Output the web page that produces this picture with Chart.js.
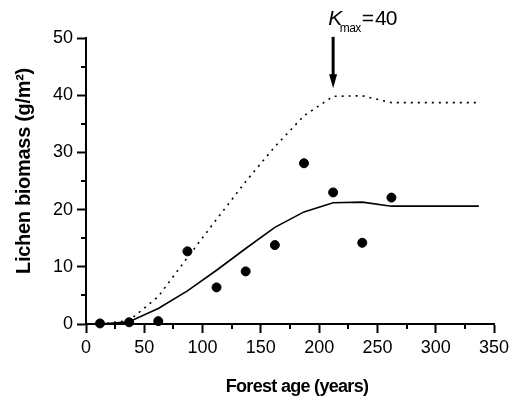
<!DOCTYPE html>
<html>
<head>
<meta charset="utf-8">
<script src="https://cdn.jsdelivr.net/npm/chart.js@4.4.1/dist/chart.umd.min.js"></script>
<style>
html,body{margin:0;padding:0;background:#fff;}
#wrap{width:519px;height:400px;position:relative;}
</style>
</head>
<body>
<div id="wrap"><canvas id="c" width="519" height="400"></canvas></div>
<script>
// Observed lichen biomass (points)
const obsAges = [12, 37, 62, 87, 112, 137, 162, 187, 212, 237, 262];
const obsBiomass = [0.1, 0.3, 0.5, 12.7, 6.4, 9.2, 13.8, 28.1, 23.0, 14.2, 22.1];
// Model curves
const modelAges = [12, 37, 62, 87, 112, 137, 162, 187, 212, 237, 262, 337];
const modelFit = [0, 0.4, 2.7, 5.8, 9.4, 13.2, 16.9, 19.6, 21.2, 21.3, 20.6, 20.6];
const modelKmax = [0, 0.6, 4.8, 11.6, 18.3, 24.9, 31.0, 36.4, 39.8, 39.9, 38.7, 38.7];
// Axis ticks
const xTicks = [0, 50, 100, 150, 200, 250, 300, 350];
const yTicks = [0, 10, 20, 30, 40, 50];
const xMinorTicks = [25, 75, 125, 175, 225, 275, 325];
const yMinorTicks = [5, 15, 25, 35, 45];
// Titles & annotation
const xTitle = 'Forest age (years)';
const yTitle = 'Lichen biomass (g/m²)';
const kmaxAge = 212;
const kmaxValue = 40;

const FONT = "'Liberation Sans', Arial, Helvetica, sans-serif";

const toXY = (xs, ys) => xs.map((x, i) => ({x: x, y: ys[i]}));

const minorTicksPlugin = {
  id: 'minorTicks',
  afterDraw(chart) {
    const ctx = chart.ctx;
    const xs = chart.scales.x, ys = chart.scales.y;
    ctx.save();
    ctx.strokeStyle = '#000';
    ctx.lineWidth = 2;
    xMinorTicks.forEach(v => {
      const px = Math.round(xs.getPixelForValue(v));
      ctx.beginPath();
      ctx.moveTo(px, ys.bottom);
      ctx.lineTo(px, ys.bottom + 5);
      ctx.stroke();
    });
    yMinorTicks.forEach(v => {
      const py = Math.round(ys.getPixelForValue(v));
      ctx.beginPath();
      ctx.moveTo(xs.left, py);
      ctx.lineTo(xs.left - 5, py);
      ctx.stroke();
    });
    ctx.restore();
  }
};

const titlesPlugin = {
  id: 'axisTitles',
  afterDraw(chart) {
    const ctx = chart.ctx;
    const area = chart.chartArea;
    ctx.save();
    ctx.fillStyle = '#000';
    ctx.textAlign = 'center';
    ctx.textBaseline = 'middle';
    // x title
    ctx.font = "bold 18px " + FONT;
    try { ctx.letterSpacing = '-0.7px'; } catch (e) {}
    ctx.fillText(xTitle, (area.left + area.right) / 2 + 7, 387);
    // y title
    ctx.font = "bold 20px " + FONT;
    try { ctx.letterSpacing = '-0.3px'; } catch (e) {}
    ctx.translate(24, (area.top + area.bottom) / 2 - 10);
    ctx.rotate(-Math.PI / 2);
    ctx.fillText(yTitle, 0, 0);
    ctx.restore();
  }
};

const annotationPlugin = {
  id: 'kmaxAnno',
  afterDraw(chart) {
    const ctx = chart.ctx;
    const xs = chart.scales.x, ys = chart.scales.y;
    const ax = xs.getPixelForValue(kmaxAge);
    const yTop = ys.getPixelForValue(50.2);
    const yTip = ys.getPixelForValue(41.2);
    ctx.save();
    ctx.strokeStyle = '#000';
    ctx.fillStyle = '#000';
    ctx.lineWidth = 3;
    ctx.beginPath();
    ctx.moveTo(ax, yTop);
    ctx.lineTo(ax, yTip - 12);
    ctx.stroke();
    ctx.beginPath();
    ctx.moveTo(ax - 4, yTip - 14);
    ctx.lineTo(ax + 4, yTip - 14);
    ctx.lineTo(ax, yTip);
    ctx.closePath();
    ctx.fill();
    // text
    ctx.textBaseline = 'alphabetic';
    ctx.textAlign = 'left';
    let tx = ax - 5;
    const base = yTop - 12;
    ctx.font = "italic 21px " + FONT;
    ctx.fillText('K', tx, base);
    tx += ctx.measureText('K').width - 2.5;
    ctx.font = "12px " + FONT;
    try { ctx.letterSpacing = '-0.5px'; } catch (e) {}
    ctx.fillText('max', tx, base + 7);
    tx += ctx.measureText('max').width + 1;
    ctx.font = "21px " + FONT;
    try { ctx.letterSpacing = '-1px'; } catch (e) {}
    ctx.fillText('=', tx, base);
    tx += ctx.measureText('=').width + 2;
    ctx.fillText(String(kmaxValue), tx, base);
    ctx.restore();
  }
};

const ctx = document.getElementById('c').getContext('2d');
new Chart(ctx, {
  type: 'scatter',
  data: {
    datasets: [
      {
        label: 'Observed',
        data: toXY(obsAges, obsBiomass),
        backgroundColor: '#000',
        borderColor: '#000',
        pointRadius: 4.5,
        pointHoverRadius: 4.5,
        showLine: false,
        clip: false
      },
      {
        label: 'Model (fit)',
        data: toXY(modelAges, modelFit),
        showLine: true,
        borderColor: '#000',
        borderWidth: 1.6,
        pointRadius: 0,
        tension: 0,
        fill: false,
        clip: false
      },
      {
        label: 'Model (Kmax = 40)',
        data: toXY(modelAges, modelKmax),
        showLine: true,
        borderColor: '#000',
        borderWidth: 1.6,
        borderDash: [2, 5],
        pointRadius: 0,
        tension: 0,
        fill: false,
        clip: false
      }
    ]
  },
  options: {
    responsive: false,
    animation: false,
    devicePixelRatio: 1,
    layout: {padding: {left: 0, right: 25, top: 38, bottom: 0}},
    plugins: {legend: {display: false}, tooltip: {enabled: false}},
    scales: {
      x: {
        type: 'linear',
        min: 0, max: 350,
        afterBuildTicks: s => { s.ticks = xTicks.map(v => ({value: v})); },
        afterFit: s => { s.height = 76; },
        ticks: {color: '#000', font: {family: FONT, size: 18}, padding: 4, maxRotation: 0},
        grid: {display: true, drawOnChartArea: false, drawTicks: true, tickLength: 9, tickWidth: 2, tickColor: '#000'},
        border: {display: true, color: '#000', width: 2},
        title: {display: false}
      },
      y: {
        type: 'linear',
        min: 0, max: 50,
        afterBuildTicks: s => { s.ticks = yTicks.map(v => ({value: v})); },
        afterFit: s => { s.width = 86; },
        ticks: {color: '#000', font: {family: FONT, size: 18}, padding: 4},
        grid: {display: true, drawOnChartArea: false, drawTicks: true, tickLength: 9, tickWidth: 2, tickColor: '#000'},
        border: {display: true, color: '#000', width: 2},
        title: {display: false}
      }
    }
  },
  plugins: [minorTicksPlugin, titlesPlugin, annotationPlugin]
});
</script>
</body>
</html>
